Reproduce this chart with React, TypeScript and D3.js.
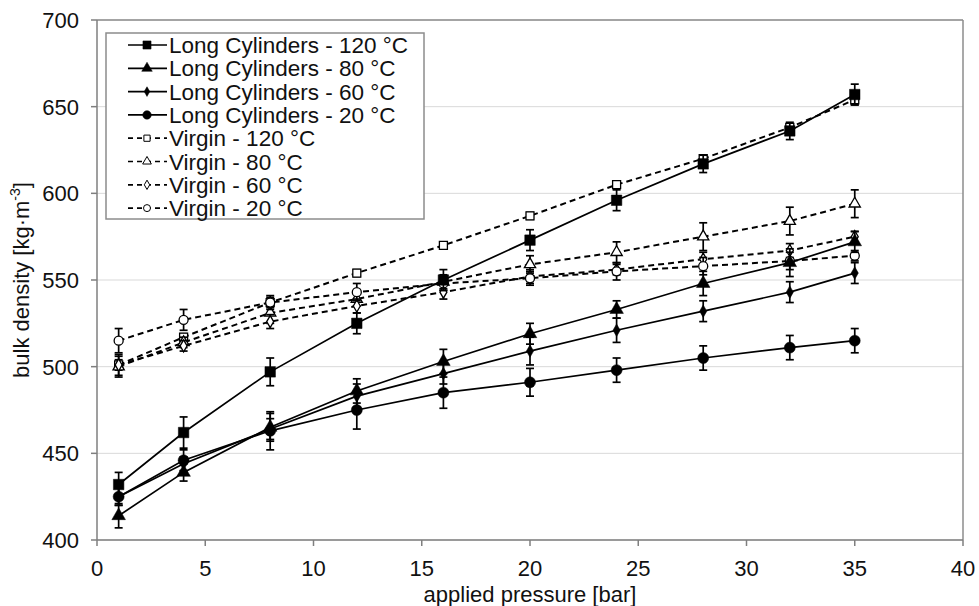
import React from "react";
import * as d3 from "d3";

const pressures = [1, 4, 8, 12, 16, 20, 24, 28, 32, 35];

const lc120 = [432, 462, 497, 525, 550, 573, 596, 617, 636, 657];
const lc80 = [414, 439, 465, 486, 503, 519, 533, 548, 560, 572];
const lc60 = [425, 444, 464, 483, 496, 509, 521, 532, 543, 554];
const lc20 = [425, 446, 463, 475, 485, 491, 498, 505, 511, 515];
const v120 = [501, 517, 537, 554, 570, 587, 605, 620, 638, 654];
const v80 = [500, 514, 531, 539, 549, 559, 566, 575, 584, 594];
const v60 = [501, 512, 526, 535, 543, 552, 556, 562, 567, 575];
const v20 = [515, 527, 537, 543, 548, 551, 555, 558, 561, 564];

const lc120Err = [7, 9, 8, 6, 6, 6, 6, 5, 5, 6];
const lc80Err = [7, 5, 8, 7, 7, 6, 5, 7, 8, 6];
const lc60Err = [5, 4, 6, 7, 6, 8, 7, 6, 6, 6];
const lc20Err = [5, 6, 11, 11, 9, 8, 7, 7, 7, 7];
const v120Err = [3, 2, 3, 2, 2, 2, 2, 2, 2, 3];
const v80Err = [6, 3, 6, 4, 4, 5, 6, 8, 8, 8];
const v60Err = [6, 3, 4, 4, 4, 4, 3, 4, 4, 3];
const v20Err = [7, 6, 4, 5, 4, 4, 5, 5, 5, 3];

const xTicks = [0, 5, 10, 15, 20, 25, 30, 35, 40];
const yTicks = [400, 450, 500, 550, 600, 650, 700];

type Series = {
  name: string;
  values: number[];
  err: number[];
  shape: string;
  filled: boolean;
};

const seriesList: Series[] = [
  { name: "Long Cylinders - 120 °C", values: lc120, err: lc120Err, shape: "square", filled: true },
  { name: "Long Cylinders - 80 °C", values: lc80, err: lc80Err, shape: "triangle", filled: true },
  { name: "Long Cylinders - 60 °C", values: lc60, err: lc60Err, shape: "diamond", filled: true },
  { name: "Long Cylinders - 20 °C", values: lc20, err: lc20Err, shape: "circle", filled: true },
  { name: "Virgin - 120 °C", values: v120, err: v120Err, shape: "square", filled: false },
  { name: "Virgin - 80 °C", values: v80, err: v80Err, shape: "triangle", filled: false },
  { name: "Virgin - 60 °C", values: v60, err: v60Err, shape: "diamond", filled: false },
  { name: "Virgin - 20 °C", values: v20, err: v20Err, shape: "circle", filled: false },
];

const W = 979;
const H = 606;
const left = 97;
const right = 963;
const top = 20;
const bottom = 540;
const FONT = "'Liberation Sans', Arial, sans-serif";

const x = d3.scaleLinear().domain([0, 40]).range([left, right]);
const y = d3.scaleLinear().domain([400, 700]).range([bottom, top]);

function symPath(shape: string, filled: boolean, scale = 1) {
  const types: Record<string, d3.SymbolType> = {
    square: d3.symbolSquare,
    triangle: d3.symbolTriangle,
    diamond: d3.symbolDiamond,
    circle: d3.symbolCircle,
  };
  const sizesFilled: Record<string, number> = { square: 110, triangle: 80, diamond: 45, circle: 95 };
  const sizesOpen: Record<string, number> = { square: 64, triangle: 55, diamond: 42, circle: 64 };
  const s = (filled ? sizesFilled : sizesOpen)[shape] * scale;
  return d3.symbol().type(types[shape]).size(s)() as string;
}

export default function App() {
  const line = d3
    .line<number>()
    .x((_, i) => x(pressures[i]))
    .y((d) => y(d));

  const drawOrder = [4, 5, 6, 7, 0, 1, 2, 3];

  return (
    <svg
      width={W}
      height={H}
      style={{ position: "absolute", left: 0, top: 0, background: "#fff" }}
      fontFamily={FONT}
    >
      <rect x={0} y={0} width={W} height={H} fill="#fff" />
      {yTicks.map((t) => (
        <line key={"g" + t} x1={left} x2={right} y1={y(t)} y2={y(t)} stroke="#d9d9d9" strokeWidth={1} />
      ))}
      <line x1={left} x2={right} y1={top} y2={top} stroke="#8c8c8c" strokeWidth={1.5} />
      <line x1={right} x2={right} y1={top} y2={bottom} stroke="#8c8c8c" strokeWidth={1.5} />
      <line x1={left} x2={left} y1={top} y2={bottom} stroke="#7f7f7f" strokeWidth={1.5} />
      <line x1={left} x2={right} y1={bottom} y2={bottom} stroke="#7f7f7f" strokeWidth={1.5} />
      {yTicks.map((t) => (
        <g key={"yt" + t}>
          <line x1={left - 6} x2={left} y1={y(t)} y2={y(t)} stroke="#7f7f7f" strokeWidth={1.5} />
          <text x={left - 18} y={y(t)} dy="0.36em" textAnchor="end" fontSize={22} fill="#111">
            {t}
          </text>
        </g>
      ))}
      {xTicks.map((t) => (
        <g key={"xt" + t}>
          <line x1={x(t)} x2={x(t)} y1={bottom} y2={bottom + 6} stroke="#7f7f7f" strokeWidth={1.5} />
          <text x={x(t)} y={bottom + 36} textAnchor="middle" fontSize={22} fill="#111">
            {t}
          </text>
        </g>
      ))}
      <text x={530} y={H - 4} textAnchor="middle" fontSize={22} fill="#111">
        applied pressure [bar]
      </text>
      <text
        transform={`translate(29, 280) rotate(-90)`}
        textAnchor="middle"
        fontSize={22}
        fill="#111"
      >
        bulk density [kg·m
        <tspan dy={-9} fontSize={14}>-3</tspan>
        <tspan dy={9}>]</tspan>
      </text>

      {drawOrder.map((si) => {
        const s = seriesList[si];
        return (
          <g key={s.name}>
            <path
              d={line(s.values) as string}
              fill="none"
              stroke="#000"
              strokeWidth={s.filled ? 1.7 : 2}
              strokeDasharray={s.filled ? undefined : "6,4"}
            />
            {s.values.map((v, i) => {
              const cx = x(pressures[i]);
              const y1 = y(v + s.err[i]);
              const y2 = y(v - s.err[i]);
              return (
                <g key={i}>
                  <line x1={cx} x2={cx} y1={y1} y2={y2} stroke="#000" strokeWidth={1.7} />
                  <line x1={cx - 4} x2={cx + 4} y1={y1} y2={y1} stroke="#000" strokeWidth={1.7} />
                  <line x1={cx - 4} x2={cx + 4} y1={y2} y2={y2} stroke="#000" strokeWidth={1.7} />
                  <path
                    d={symPath(s.shape, s.filled)}
                    transform={`translate(${cx},${y(v)})`}
                    fill={s.filled ? "#000" : "#fff"}
                    stroke="#000"
                    strokeWidth={s.filled ? 0.5 : 1.3}
                  />
                </g>
              );
            })}
          </g>
        );
      })}

      <g>
        <rect x={106} y={33} width={318} height={186} fill="#fff" stroke="#8c8c8c" strokeWidth={1.5} />
        {seriesList.map((s, i) => {
          const cy = 45 + i * 23.3;
          return (
            <g key={"lg" + i}>
              <line
                x1={128}
                x2={167}
                y1={cy}
                y2={cy}
                stroke="#000"
                strokeWidth={1.7}
                strokeDasharray={s.filled ? undefined : "5,4"}
              />
              <path
                d={symPath(s.shape, s.filled, 0.6)}
                transform={`translate(147,${cy})`}
                fill={s.filled ? "#000" : "#fff"}
                stroke="#000"
                strokeWidth={s.filled ? 0.5 : 1}
              />
              <text x={169} y={cy} dy="0.36em" fontSize={22.5} fill="#111">
                {s.name}
              </text>
            </g>
          );
        })}
      </g>
    </svg>
  );
}
